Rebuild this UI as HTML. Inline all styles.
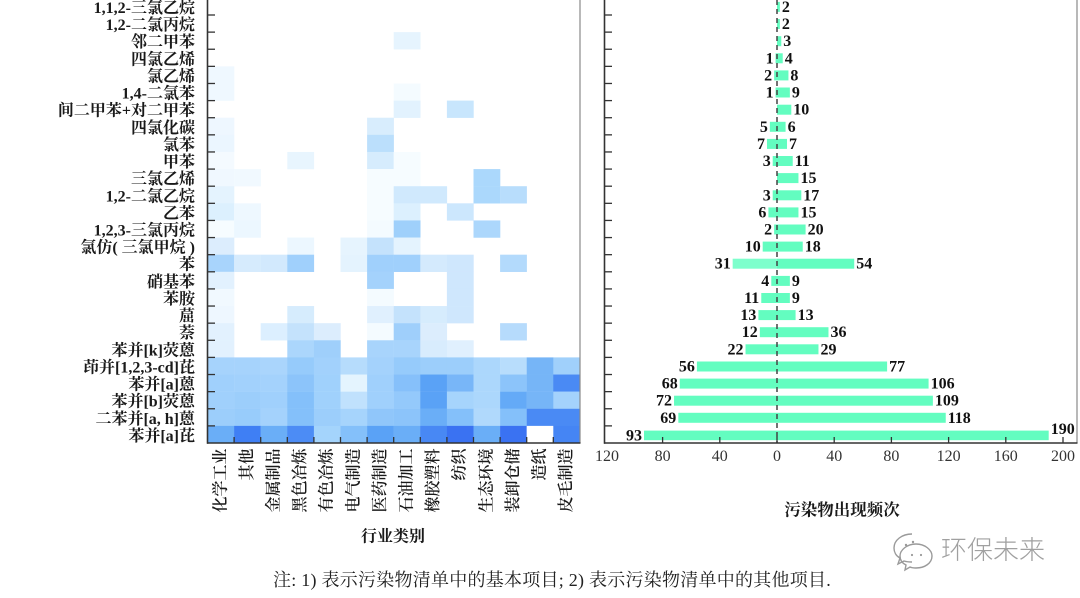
<!DOCTYPE html>
<html><head><meta charset="utf-8">
<style>
html,body{margin:0;padding:0;background:#fff;}
#wrap{position:relative;width:1080px;height:598px;overflow:hidden;background:#fff;}
svg{position:absolute;left:0;top:0;}
.yl{font-family:"Liberation Serif","Noto Serif CJK SC",serif;font-size:16px;font-weight:bold;fill:#1a1a1a;}
.xl{font-family:"Liberation Serif","Noto Serif CJK SC",serif;font-size:16px;font-weight:600;fill:#1a1a1a;}
.val{font-family:"Liberation Serif","Noto Serif CJK SC",serif;font-size:16px;font-weight:bold;fill:#111;}
.tk{font-family:"Liberation Serif","Noto Serif CJK SC",serif;font-size:16px;fill:#333;}
</style></head><body><div id="wrap">
<svg width="1080" height="598" viewBox="0 0 1080 598" xmlns="http://www.w3.org/2000/svg">
<!-- Heatmap cells -->
<g transform="translate(207.5,-2.12)">
<rect x="186.2" y="34.24" width="26.8" height="17.3" fill="#e6f4fe"/>
<rect x="0" y="68.48" width="26.8" height="17.3" fill="#eff8ff"/>
<rect x="0" y="85.6" width="26.8" height="17.3" fill="#eff8ff"/>
<rect x="186.2" y="85.6" width="26.8" height="17.3" fill="#f4fbff"/>
<rect x="186.2" y="102.72" width="26.8" height="17.3" fill="#e2f2fe"/>
<rect x="239.4" y="102.72" width="26.8" height="17.3" fill="#c8e6fd"/>
<rect x="0" y="119.84" width="26.8" height="17.3" fill="#eef7ff"/>
<rect x="159.6" y="119.84" width="26.8" height="17.3" fill="#d8edfd"/>
<rect x="0" y="136.96" width="26.8" height="17.3" fill="#ebf6ff"/>
<rect x="159.6" y="136.96" width="26.8" height="17.3" fill="#bbdffc"/>
<rect x="0" y="154.08" width="26.8" height="17.3" fill="#f4faff"/>
<rect x="79.8" y="154.08" width="26.8" height="17.3" fill="#e8f5fe"/>
<rect x="159.6" y="154.08" width="26.8" height="17.3" fill="#d6ecfd"/>
<rect x="186.2" y="154.08" width="26.8" height="17.3" fill="#f6fcff"/>
<rect x="0" y="171.2" width="26.8" height="17.3" fill="#f0f8ff"/>
<rect x="26.6" y="171.2" width="26.8" height="17.3" fill="#f1f9ff"/>
<rect x="159.6" y="171.2" width="26.8" height="17.3" fill="#f6fcff"/>
<rect x="186.2" y="171.2" width="26.8" height="17.3" fill="#f6fcff"/>
<rect x="266" y="171.2" width="26.8" height="17.3" fill="#abd8fc"/>
<rect x="0" y="188.32" width="26.8" height="17.3" fill="#e4f3fe"/>
<rect x="159.6" y="188.32" width="26.8" height="17.3" fill="#f6fcff"/>
<rect x="186.2" y="188.32" width="26.8" height="17.3" fill="#d0e9fd"/>
<rect x="212.8" y="188.32" width="26.8" height="17.3" fill="#d0e9fd"/>
<rect x="266" y="188.32" width="26.8" height="17.3" fill="#abd8fc"/>
<rect x="292.6" y="188.32" width="26.8" height="17.3" fill="#b8ddfc"/>
<rect x="0" y="205.44" width="26.8" height="17.3" fill="#dcf0fe"/>
<rect x="26.6" y="205.44" width="26.8" height="17.3" fill="#eef8ff"/>
<rect x="159.6" y="205.44" width="26.8" height="17.3" fill="#f6fcff"/>
<rect x="186.2" y="205.44" width="26.8" height="17.3" fill="#dcf0fe"/>
<rect x="239.4" y="205.44" width="26.8" height="17.3" fill="#cce7fd"/>
<rect x="0" y="222.56" width="26.8" height="17.3" fill="#f6fcff"/>
<rect x="26.6" y="222.56" width="26.8" height="17.3" fill="#ecf7ff"/>
<rect x="159.6" y="222.56" width="26.8" height="17.3" fill="#f4fbff"/>
<rect x="186.2" y="222.56" width="26.8" height="17.3" fill="#9fd0fb"/>
<rect x="266" y="222.56" width="26.8" height="17.3" fill="#acd7fc"/>
<rect x="0" y="239.68" width="26.8" height="17.3" fill="#dcedfd"/>
<rect x="79.8" y="239.68" width="26.8" height="17.3" fill="#ecf7ff"/>
<rect x="133" y="239.68" width="26.8" height="17.3" fill="#e6f4fe"/>
<rect x="159.6" y="239.68" width="26.8" height="17.3" fill="#c4e2fc"/>
<rect x="186.2" y="239.68" width="26.8" height="17.3" fill="#e4f3fe"/>
<rect x="0" y="256.8" width="26.8" height="17.3" fill="#a8d4fc"/>
<rect x="26.6" y="256.8" width="26.8" height="17.3" fill="#d6ebfd"/>
<rect x="53.2" y="256.8" width="26.8" height="17.3" fill="#d2e9fd"/>
<rect x="79.8" y="256.8" width="26.8" height="17.3" fill="#a0d0fc"/>
<rect x="133" y="256.8" width="26.8" height="17.3" fill="#e4f3fe"/>
<rect x="159.6" y="256.8" width="26.8" height="17.3" fill="#a0d0fc"/>
<rect x="186.2" y="256.8" width="26.8" height="17.3" fill="#a0d0fc"/>
<rect x="212.8" y="256.8" width="26.8" height="17.3" fill="#d4eafd"/>
<rect x="239.4" y="256.8" width="26.8" height="17.3" fill="#cfe7fd"/>
<rect x="292.6" y="256.8" width="26.8" height="17.3" fill="#b3dafc"/>
<rect x="0" y="273.92" width="26.8" height="17.3" fill="#e2f1fe"/>
<rect x="159.6" y="273.92" width="26.8" height="17.3" fill="#a4d2fc"/>
<rect x="239.4" y="273.92" width="26.8" height="17.3" fill="#cfe7fd"/>
<rect x="0" y="291.04" width="26.8" height="17.3" fill="#f1f9ff"/>
<rect x="159.6" y="291.04" width="26.8" height="17.3" fill="#f4fbff"/>
<rect x="239.4" y="291.04" width="26.8" height="17.3" fill="#cfe7fd"/>
<rect x="0" y="308.16" width="26.8" height="17.3" fill="#eef7ff"/>
<rect x="79.8" y="308.16" width="26.8" height="17.3" fill="#d6ecfd"/>
<rect x="159.6" y="308.16" width="26.8" height="17.3" fill="#e0f0fe"/>
<rect x="186.2" y="308.16" width="26.8" height="17.3" fill="#c4e2fc"/>
<rect x="212.8" y="308.16" width="26.8" height="17.3" fill="#d6ecfd"/>
<rect x="239.4" y="308.16" width="26.8" height="17.3" fill="#cfe7fd"/>
<rect x="0" y="325.28" width="26.8" height="17.3" fill="#e2f1fe"/>
<rect x="53.2" y="325.28" width="26.8" height="17.3" fill="#dcefff"/>
<rect x="79.8" y="325.28" width="26.8" height="17.3" fill="#c4e2fc"/>
<rect x="106.4" y="325.28" width="26.8" height="17.3" fill="#dcedfd"/>
<rect x="159.6" y="325.28" width="26.8" height="17.3" fill="#f4fbff"/>
<rect x="186.2" y="325.28" width="26.8" height="17.3" fill="#9fcffb"/>
<rect x="212.8" y="325.28" width="26.8" height="17.3" fill="#dcedfd"/>
<rect x="292.6" y="325.28" width="26.8" height="17.3" fill="#b6dbfc"/>
<rect x="0" y="342.4" width="26.8" height="17.3" fill="#e2f1fe"/>
<rect x="79.8" y="342.4" width="26.8" height="17.3" fill="#abd6fc"/>
<rect x="106.4" y="342.4" width="26.8" height="17.3" fill="#9fcffb"/>
<rect x="159.6" y="342.4" width="26.8" height="17.3" fill="#a8d4fc"/>
<rect x="186.2" y="342.4" width="26.8" height="17.3" fill="#a8d4fc"/>
<rect x="212.8" y="342.4" width="26.8" height="17.3" fill="#d8ecfd"/>
<rect x="239.4" y="342.4" width="26.8" height="17.3" fill="#e0f0fe"/>
<!-- row 21 -->
<rect x="0" y="359.52" width="26.8" height="17.3" fill="#a6d3fc"/>
<rect x="26.6" y="359.52" width="26.8" height="17.3" fill="#a6d3fc"/>
<rect x="53.2" y="359.52" width="26.8" height="17.3" fill="#aad5fc"/>
<rect x="79.8" y="359.52" width="26.8" height="17.3" fill="#96cbfb"/>
<rect x="106.4" y="359.52" width="26.8" height="17.3" fill="#a2d1fc"/>
<rect x="133" y="359.52" width="26.8" height="17.3" fill="#b6dcfc"/>
<rect x="159.6" y="359.52" width="26.8" height="17.3" fill="#a4d2fc"/>
<rect x="186.2" y="359.52" width="26.8" height="17.3" fill="#96cbfb"/>
<rect x="212.8" y="359.52" width="26.8" height="17.3" fill="#9ccefb"/>
<rect x="239.4" y="359.52" width="26.8" height="17.3" fill="#9ccefb"/>
<rect x="266" y="359.52" width="26.8" height="17.3" fill="#acd7fc"/>
<rect x="292.6" y="359.52" width="26.8" height="17.3" fill="#b8ddfc"/>
<rect x="319.2" y="359.52" width="26.8" height="17.3" fill="#76b5f7"/>
<rect x="345.8" y="359.52" width="26.6" height="17.3" fill="#a0d0fb"/>
<!-- row 22 -->
<rect x="0" y="376.64" width="26.8" height="17.3" fill="#a0d0fc"/>
<rect x="26.6" y="376.64" width="26.8" height="17.3" fill="#a2d1fc"/>
<rect x="53.2" y="376.64" width="26.8" height="17.3" fill="#a4d2fc"/>
<rect x="79.8" y="376.64" width="26.8" height="17.3" fill="#8cc4fa"/>
<rect x="106.4" y="376.64" width="26.8" height="17.3" fill="#a0d1fc"/>
<rect x="133" y="376.64" width="26.8" height="17.3" fill="#e4f4fe"/>
<rect x="159.6" y="376.64" width="26.8" height="17.3" fill="#a0d0fc"/>
<rect x="186.2" y="376.64" width="26.8" height="17.3" fill="#86c0fa"/>
<rect x="212.8" y="376.64" width="26.8" height="17.3" fill="#5aa2f6"/>
<rect x="239.4" y="376.64" width="26.8" height="17.3" fill="#78b6f8"/>
<rect x="266" y="376.64" width="26.8" height="17.3" fill="#acd7fc"/>
<rect x="292.6" y="376.64" width="26.8" height="17.3" fill="#8cc4fa"/>
<rect x="319.2" y="376.64" width="26.8" height="17.3" fill="#76b5f7"/>
<rect x="345.8" y="376.64" width="26.6" height="17.3" fill="#4a8af4"/>
<!-- row 23 -->
<rect x="0" y="393.76" width="26.8" height="17.3" fill="#a0d0fc"/>
<rect x="26.6" y="393.76" width="26.8" height="17.3" fill="#9ccefb"/>
<rect x="53.2" y="393.76" width="26.8" height="17.3" fill="#a0d0fc"/>
<rect x="79.8" y="393.76" width="26.8" height="17.3" fill="#84c0fa"/>
<rect x="106.4" y="393.76" width="26.8" height="17.3" fill="#a0d1fc"/>
<rect x="133" y="393.76" width="26.8" height="17.3" fill="#c0e1fd"/>
<rect x="159.6" y="393.76" width="26.8" height="17.3" fill="#a0d0fc"/>
<rect x="186.2" y="393.76" width="26.8" height="17.3" fill="#94c9fb"/>
<rect x="212.8" y="393.76" width="26.8" height="17.3" fill="#5aa2f6"/>
<rect x="239.4" y="393.76" width="26.8" height="17.3" fill="#a6d4fc"/>
<rect x="266" y="393.76" width="26.8" height="17.3" fill="#acd7fc"/>
<rect x="292.6" y="393.76" width="26.8" height="17.3" fill="#64aaf7"/>
<rect x="319.2" y="393.76" width="26.8" height="17.3" fill="#76b5f7"/>
<rect x="345.8" y="393.76" width="26.6" height="17.3" fill="#a4d2fc"/>
<!-- row 24 -->
<rect x="0" y="410.88" width="26.8" height="17.3" fill="#9ccefb"/>
<rect x="26.6" y="410.88" width="26.8" height="17.3" fill="#98ccfb"/>
<rect x="53.2" y="410.88" width="26.8" height="17.3" fill="#a4d2fc"/>
<rect x="79.8" y="410.88" width="26.8" height="17.3" fill="#84c0fa"/>
<rect x="106.4" y="410.88" width="26.8" height="17.3" fill="#9ccefb"/>
<rect x="133" y="410.88" width="26.8" height="17.3" fill="#a6d4fc"/>
<rect x="159.6" y="410.88" width="26.8" height="17.3" fill="#90c6fa"/>
<rect x="186.2" y="410.88" width="26.8" height="17.3" fill="#8cc4fa"/>
<rect x="212.8" y="410.88" width="26.8" height="17.3" fill="#6aaef7"/>
<rect x="239.4" y="410.88" width="26.8" height="17.3" fill="#84c0fa"/>
<rect x="266" y="410.88" width="26.8" height="17.3" fill="#b0d9fc"/>
<rect x="292.6" y="410.88" width="26.8" height="17.3" fill="#84c0fa"/>
<rect x="319.2" y="410.88" width="26.8" height="17.3" fill="#4a8af4"/>
<rect x="345.8" y="410.88" width="26.6" height="17.3" fill="#4a8af4"/>
<!-- row 25 -->
<rect x="0" y="428" width="26.8" height="17.1" fill="#6aaef7"/>
<rect x="26.6" y="428" width="26.8" height="17.1" fill="#3f7ff4"/>
<rect x="53.2" y="428" width="26.8" height="17.1" fill="#6aaef7"/>
<rect x="79.8" y="428" width="26.8" height="17.1" fill="#4c8cf5"/>
<rect x="106.4" y="428" width="26.8" height="17.1" fill="#a4d4fc"/>
<rect x="133" y="428" width="26.8" height="17.1" fill="#84c0fa"/>
<rect x="159.6" y="428" width="26.8" height="17.1" fill="#5aa2f6"/>
<rect x="186.2" y="428" width="26.8" height="17.1" fill="#6aaef7"/>
<rect x="212.8" y="428" width="26.8" height="17.1" fill="#4888f4"/>
<rect x="239.4" y="428" width="26.8" height="17.1" fill="#3a72f2"/>
<rect x="266" y="428" width="26.8" height="17.1" fill="#6aaef7"/>
<rect x="292.6" y="428" width="26.8" height="17.1" fill="#3a72f2"/>
<rect x="319.2" y="428" width="26.6" height="17.1" fill="#ffffff"/>
<rect x="345.8" y="428" width="26.6" height="17.1" fill="#4585f4"/>
</g>

<!-- Heatmap axes -->
<line x1="580" y1="0" x2="580" y2="443" stroke="#8a8a8a" stroke-width="1.2"/>
<line x1="207.5" y1="0" x2="207.5" y2="443.8" stroke="#333" stroke-width="1.6"/>
<line x1="207" y1="443" x2="580.5" y2="443" stroke="#333" stroke-width="1.6"/>
<g stroke="#333" stroke-width="1.3">
<line x1="207.5" y1="15" x2="215" y2="15"/><line x1="207.5" y1="32.12" x2="215" y2="32.12"/>
<line x1="207.5" y1="49.24" x2="215" y2="49.24"/><line x1="207.5" y1="66.36" x2="215" y2="66.36"/>
<line x1="207.5" y1="83.48" x2="215" y2="83.48"/><line x1="207.5" y1="100.6" x2="215" y2="100.6"/>
<line x1="207.5" y1="117.72" x2="215" y2="117.72"/><line x1="207.5" y1="134.84" x2="215" y2="134.84"/>
<line x1="207.5" y1="151.96" x2="215" y2="151.96"/><line x1="207.5" y1="169.08" x2="215" y2="169.08"/>
<line x1="207.5" y1="186.2" x2="215" y2="186.2"/><line x1="207.5" y1="203.32" x2="215" y2="203.32"/>
<line x1="207.5" y1="220.44" x2="215" y2="220.44"/><line x1="207.5" y1="237.56" x2="215" y2="237.56"/>
<line x1="207.5" y1="254.68" x2="215" y2="254.68"/><line x1="207.5" y1="271.8" x2="215" y2="271.8"/>
<line x1="207.5" y1="288.92" x2="215" y2="288.92"/><line x1="207.5" y1="306.04" x2="215" y2="306.04"/>
<line x1="207.5" y1="323.16" x2="215" y2="323.16"/><line x1="207.5" y1="340.28" x2="215" y2="340.28"/>
<line x1="207.5" y1="357.4" x2="215" y2="357.4"/><line x1="207.5" y1="374.52" x2="215" y2="374.52"/>
<line x1="207.5" y1="391.64" x2="215" y2="391.64"/><line x1="207.5" y1="408.76" x2="215" y2="408.76"/>
<line x1="207.5" y1="425.88" x2="215" y2="425.88"/>
<line x1="234.1" y1="437" x2="234.1" y2="443"/><line x1="260.7" y1="437" x2="260.7" y2="443"/>
<line x1="287.3" y1="437" x2="287.3" y2="443"/><line x1="313.9" y1="437" x2="313.9" y2="443"/>
<line x1="340.5" y1="437" x2="340.5" y2="443"/><line x1="367.1" y1="437" x2="367.1" y2="443"/>
<line x1="393.7" y1="437" x2="393.7" y2="443"/><line x1="420.3" y1="437" x2="420.3" y2="443"/>
<line x1="446.9" y1="437" x2="446.9" y2="443"/><line x1="473.5" y1="437" x2="473.5" y2="443"/>
<line x1="500.1" y1="437" x2="500.1" y2="443"/><line x1="526.7" y1="437" x2="526.7" y2="443"/>
<line x1="553.3" y1="437" x2="553.3" y2="443"/>
</g>

<!-- Y labels -->
<g class="yl" text-anchor="end" dominant-baseline="central">
<text x="195" y="8.4">1,1,2-三氯乙烷</text>
<text x="195" y="25.5">1,2-二氯丙烷</text>
<text x="195" y="42.6">邻二甲苯</text>
<text x="195" y="59.8">四氯乙烯</text>
<text x="195" y="76.9">氯乙烯</text>
<text x="195" y="94">1,4-二氯苯</text>
<text x="195" y="111.1">间二甲苯+对二甲苯</text>
<text x="195" y="128.3">四氯化碳</text>
<text x="195" y="145.4">氯苯</text>
<text x="195" y="162.5">甲苯</text>
<text x="195" y="179.6">三氯乙烯</text>
<text x="195" y="196.8">1,2-二氯乙烷</text>
<text x="195" y="213.9">乙苯</text>
<text x="195" y="231">1,2,3-三氯丙烷</text>
<text x="195" y="248.1">氯仿( 三氯甲烷 )</text>
<text x="195" y="265.2">苯</text>
<text x="195" y="282.4">硝基苯</text>
<text x="195" y="299.5">苯胺</text>
<text x="195" y="316.6">䓛</text>
<text x="195" y="333.7">萘</text>
<text x="195" y="350.8">苯并[k]荧蒽</text>
<text x="195" y="368">茚并[1,2,3-cd]芘</text>
<text x="195" y="385.1">苯并[a]蒽</text>
<text x="195" y="402.2">苯并[b]荧蒽</text>
<text x="195" y="419.3">二苯并[a, h]蒽</text>
<text x="195" y="436.4">苯并[a]芘</text>
</g>

<!-- X labels (rotated) -->
<g class="xl" text-anchor="end" dominant-baseline="central">
<text transform="translate(220.8,448.5) rotate(-90)">化学工业</text>
<text transform="translate(247.4,448.5) rotate(-90)">其他</text>
<text transform="translate(274,448.5) rotate(-90)">金属制品</text>
<text transform="translate(300.6,448.5) rotate(-90)">黑色冶炼</text>
<text transform="translate(327.2,448.5) rotate(-90)">有色冶炼</text>
<text transform="translate(353.8,448.5) rotate(-90)">电气制造</text>
<text transform="translate(380.4,448.5) rotate(-90)">医药制造</text>
<text transform="translate(407,448.5) rotate(-90)">石油加工</text>
<text transform="translate(433.6,448.5) rotate(-90)">橡胶塑料</text>
<text transform="translate(460.2,448.5) rotate(-90)">纺织</text>
<text transform="translate(486.8,448.5) rotate(-90)">生态环境</text>
<text transform="translate(513.4,448.5) rotate(-90)">装卸仓储</text>
<text transform="translate(540,448.5) rotate(-90)">造纸</text>
<text transform="translate(566.6,448.5) rotate(-90)">皮毛制造</text>
</g>

<text x="393" y="537" text-anchor="middle" dominant-baseline="central" style="font-family:'Liberation Serif','Noto Serif CJK SC',serif;font-size:16px;font-weight:bold;fill:#1a1a1a;">行业类别</text>

<!-- Right chart bars -->
<g fill="#63fdc0">
<rect x="777" y="1.9" width="2.86" height="10"/>
<rect x="777" y="19" width="2.86" height="10"/>
<rect x="777" y="36.2" width="4.29" height="10"/>
<rect x="775.57" y="53.3" width="1.43" height="10"/><rect x="777" y="53.3" width="5.72" height="10"/>
<rect x="774.14" y="70.4" width="2.86" height="10"/><rect x="777" y="70.4" width="11.44" height="10"/>
<rect x="775.57" y="87.5" width="1.43" height="10"/><rect x="777" y="87.5" width="12.87" height="10"/>
<rect x="777" y="104.7" width="14.3" height="10"/>
<rect x="769.85" y="121.8" width="7.15" height="10"/><rect x="777" y="121.8" width="8.58" height="10"/>
<rect x="766.99" y="138.9" width="10.01" height="10"/><rect x="777" y="138.9" width="10.01" height="10"/>
<rect x="772.71" y="156" width="4.29" height="10"/><rect x="777" y="156" width="15.73" height="10"/>
<rect x="777" y="173.1" width="21.45" height="10"/>
<rect x="772.71" y="190.3" width="4.29" height="10"/><rect x="777" y="190.3" width="24.31" height="10"/>
<rect x="768.42" y="207.4" width="8.58" height="10"/><rect x="777" y="207.4" width="21.45" height="10"/>
<rect x="774.14" y="224.5" width="2.86" height="10"/><rect x="777" y="224.5" width="28.6" height="10"/>
<rect x="762.7" y="241.6" width="14.3" height="10"/><rect x="777" y="241.6" width="25.74" height="10"/>
<rect x="732.67" y="258.7" width="44.33" height="10" fill="#7dffcc"/><rect x="777" y="258.7" width="77.22" height="10"/>
<rect x="771.28" y="275.9" width="5.72" height="10"/><rect x="777" y="275.9" width="12.87" height="10"/>
<rect x="761.27" y="293" width="15.73" height="10"/><rect x="777" y="293" width="12.87" height="10"/>
<rect x="758.41" y="310.1" width="18.59" height="10"/><rect x="777" y="310.1" width="18.59" height="10"/>
<rect x="759.84" y="327.2" width="17.16" height="10"/><rect x="777" y="327.2" width="51.48" height="10"/>
<rect x="745.54" y="344.3" width="31.46" height="10"/><rect x="777" y="344.3" width="41.47" height="10"/>
<rect x="696.92" y="361.5" width="80.08" height="10"/><rect x="777" y="361.5" width="110.11" height="10"/>
<rect x="679.76" y="378.6" width="97.24" height="10"/><rect x="777" y="378.6" width="151.58" height="10"/>
<rect x="674.04" y="395.7" width="102.96" height="10"/><rect x="777" y="395.7" width="155.87" height="10"/>
<rect x="678.33" y="412.8" width="98.67" height="10"/><rect x="777" y="412.8" width="168.74" height="10"/>
<rect x="644.01" y="430.6" width="132.99" height="9.6"/><rect x="777" y="430.6" width="271.7" height="9.6"/>
</g>
<line x1="777" y1="0" x2="777" y2="443" stroke="#444" stroke-width="1.5" stroke-dasharray="5,4"/>

<!-- Right chart values -->
<g class="val" dominant-baseline="central">
<g text-anchor="start">
<text x="781.9" y="7.4">2</text>
<text x="781.9" y="24.5">2</text>
<text x="783.3" y="41.7">3</text>
<text x="784.7" y="58.8">4</text>
<text x="790.4" y="75.9">8</text>
<text x="791.9" y="93">9</text>
<text x="793.3" y="110.2">10</text>
<text x="787.6" y="127.3">6</text>
<text x="789" y="144.4">7</text>
<text x="794.7" y="161.5">11</text>
<text x="800.5" y="178.6">15</text>
<text x="803.3" y="195.8">17</text>
<text x="800.5" y="212.9">15</text>
<text x="807.6" y="230">20</text>
<text x="804.7" y="247.1">18</text>
<text x="856.2" y="264.2">54</text>
<text x="791.9" y="281.4">9</text>
<text x="791.9" y="298.5">9</text>
<text x="797.6" y="315.6">13</text>
<text x="830.5" y="332.7">36</text>
<text x="820.5" y="349.8">29</text>
<text x="889.1" y="367">77</text>
<text x="930.6" y="384.1">106</text>
<text x="934.9" y="401.2">109</text>
<text x="947.7" y="418.3">118</text>
<text x="1050.7" y="429.3">190</text>
</g>
<g text-anchor="end">
<text x="773.6" y="58.8">1</text>
<text x="772.1" y="75.9">2</text>
<text x="773.6" y="93">1</text>
<text x="767.9" y="127.3">5</text>
<text x="765" y="144.4">7</text>
<text x="770.7" y="161.5">3</text>
<text x="770.7" y="195.8">3</text>
<text x="766.4" y="212.9">6</text>
<text x="772.1" y="230">2</text>
<text x="760.7" y="247.1">10</text>
<text x="730.7" y="264.2">31</text>
<text x="769.3" y="281.4">4</text>
<text x="759.3" y="298.5">11</text>
<text x="756.4" y="315.6">13</text>
<text x="757.8" y="332.7">12</text>
<text x="743.5" y="349.8">22</text>
<text x="694.9" y="367">56</text>
<text x="677.8" y="384.1">68</text>
<text x="672" y="401.2">72</text>
<text x="676.3" y="418.3">69</text>
<text x="642" y="436">93</text>
</g>
</g>

<!-- Right chart axes -->
<line x1="1077" y1="0" x2="1077" y2="443" stroke="#8a8a8a" stroke-width="1.2"/>
<line x1="604.5" y1="0" x2="604.5" y2="443.8" stroke="#333" stroke-width="1.6"/>
<line x1="604" y1="443" x2="1077.5" y2="443" stroke="#333" stroke-width="1.6"/>
<g stroke="#333" stroke-width="1.3">
<line x1="604.5" y1="15" x2="612" y2="15"/><line x1="604.5" y1="32.12" x2="612" y2="32.12"/>
<line x1="604.5" y1="49.24" x2="612" y2="49.24"/><line x1="604.5" y1="66.36" x2="612" y2="66.36"/>
<line x1="604.5" y1="83.48" x2="612" y2="83.48"/><line x1="604.5" y1="100.6" x2="612" y2="100.6"/>
<line x1="604.5" y1="117.72" x2="612" y2="117.72"/><line x1="604.5" y1="134.84" x2="612" y2="134.84"/>
<line x1="604.5" y1="151.96" x2="612" y2="151.96"/><line x1="604.5" y1="169.08" x2="612" y2="169.08"/>
<line x1="604.5" y1="186.2" x2="612" y2="186.2"/><line x1="604.5" y1="203.32" x2="612" y2="203.32"/>
<line x1="604.5" y1="220.44" x2="612" y2="220.44"/><line x1="604.5" y1="237.56" x2="612" y2="237.56"/>
<line x1="604.5" y1="254.68" x2="612" y2="254.68"/><line x1="604.5" y1="271.8" x2="612" y2="271.8"/>
<line x1="604.5" y1="288.92" x2="612" y2="288.92"/><line x1="604.5" y1="306.04" x2="612" y2="306.04"/>
<line x1="604.5" y1="323.16" x2="612" y2="323.16"/><line x1="604.5" y1="340.28" x2="612" y2="340.28"/>
<line x1="604.5" y1="357.4" x2="612" y2="357.4"/><line x1="604.5" y1="374.52" x2="612" y2="374.52"/>
<line x1="604.5" y1="391.64" x2="612" y2="391.64"/><line x1="604.5" y1="408.76" x2="612" y2="408.76"/>
<line x1="604.5" y1="425.88" x2="612" y2="425.88"/>
<line x1="662.6" y1="437" x2="662.6" y2="443"/><line x1="719.8" y1="437" x2="719.8" y2="443"/>
<line x1="777" y1="437" x2="777" y2="443"/><line x1="834.2" y1="437" x2="834.2" y2="443"/>
<line x1="891.4" y1="437" x2="891.4" y2="443"/><line x1="948.6" y1="437" x2="948.6" y2="443"/>
<line x1="1005.8" y1="437" x2="1005.8" y2="443"/><line x1="1063" y1="437" x2="1063" y2="443"/>
</g>
<g class="tk" text-anchor="middle" dominant-baseline="central">
<text x="607" y="456.5">120</text>
<text x="662.6" y="456.5">80</text>
<text x="719.8" y="456.5">40</text>
<text x="777" y="456.5">0</text>
<text x="834.2" y="456.5">40</text>
<text x="891.4" y="456.5">80</text>
<text x="948.6" y="456.5">120</text>
<text x="1005.8" y="456.5">160</text>
<text x="1063" y="456.5">200</text>
</g>
<text x="842" y="510" text-anchor="middle" dominant-baseline="central" style="font-family:'Liberation Serif','Noto Serif CJK SC',serif;font-size:16.5px;font-weight:bold;fill:#1a1a1a;">污染物出现频次</text>

<!-- Watermark -->
<g fill="none" stroke="#9a9a9a" stroke-width="1.4">
<path d="M912 534 c-10 0 -18 6 -18 14 c0 4 2 8 6 10 l-2 6 l6 -3 c3 1 5 1 8 1"/>
<path d="M916 544 c9 0 16 6 16 12 c0 7 -7 12 -16 12 c-2 0 -4 0 -6 -1 l-5 3 l1 -5 c-4 -2 -6 -5 -6 -9 c0 -6 7 -12 16 -12 z"/>
</g>
<g fill="#9a9a9a"><circle cx="906" cy="545" r="1.2"/><circle cx="913" cy="542" r="1.2"/><circle cx="912" cy="555" r="1.1"/><circle cx="921" cy="555" r="1.1"/></g>
<text x="941" y="550" dominant-baseline="central" style="font-family:'Liberation Sans','Noto Sans CJK SC',sans-serif;font-size:26px;font-weight:300;fill:#a0a0a0;">环保未来</text>

<!-- Footer -->
<text x="273" y="580" dominant-baseline="central" style="font-family:'Liberation Serif','Noto Serif CJK SC',serif;font-size:18px;letter-spacing:0.25px;fill:#222;">注: 1) 表示污染物清单中的基本项目; 2) 表示污染物清单中的其他项目.</text>
</svg>
</div></body></html>
